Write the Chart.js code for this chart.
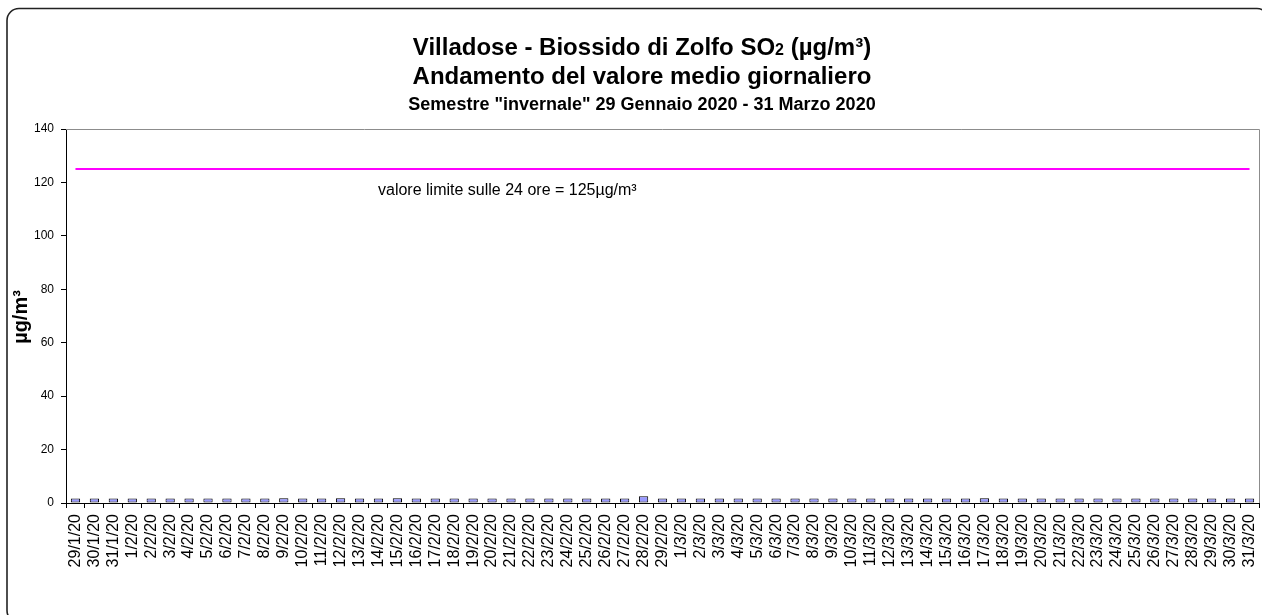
<!DOCTYPE html>
<html>
<head>
<meta charset="utf-8">
<script src="https://cdn.jsdelivr.net/npm/chart.js@4/dist/chart.umd.min.js"></script>
<style>
html,body{margin:0;padding:0;background:#fff;}
#wrap{width:1262px;height:615px;position:relative;}
canvas{display:block;}
</style>
</head>
<body>
<div id="wrap"><canvas id="c" width="1262" height="615"></canvas></div>
<script>
const categories = [
  "29/1/20","30/1/20","31/1/20",
  "1/2/20","2/2/20","3/2/20","4/2/20","5/2/20","6/2/20","7/2/20","8/2/20","9/2/20","10/2/20",
  "11/2/20","12/2/20","13/2/20","14/2/20","15/2/20","16/2/20","17/2/20","18/2/20","19/2/20","20/2/20",
  "21/2/20","22/2/20","23/2/20","24/2/20","25/2/20","26/2/20","27/2/20","28/2/20","29/2/20",
  "1/3/20","2/3/20","3/3/20","4/3/20","5/3/20","6/3/20","7/3/20","8/3/20","9/3/20","10/3/20",
  "11/3/20","12/3/20","13/3/20","14/3/20","15/3/20","16/3/20","17/3/20","18/3/20","19/3/20","20/3/20",
  "21/3/20","22/3/20","23/3/20","24/3/20","25/3/20","26/3/20","27/3/20","28/3/20","29/3/20","30/3/20","31/3/20"
];
const so2Values = [
  1.7,1.7,1.7,
  1.7,1.7,1.7,1.7,1.7,1.7,1.7,1.7,1.8,1.7,
  1.7,1.8,1.7,1.7,1.8,1.7,1.7,1.7,1.7,1.7,
  1.7,1.7,1.7,1.7,1.7,1.7,1.7,2.5,1.7,
  1.7,1.7,1.7,1.7,1.7,1.7,1.7,1.7,1.7,1.7,
  1.7,1.7,1.7,1.7,1.7,1.7,1.8,1.7,1.7,1.7,
  1.7,1.7,1.7,1.7,1.7,1.7,1.7,1.7,1.7,1.7,1.7
];
const limitValues = [
  125,125,125,
  125,125,125,125,125,125,125,125,125,125,
  125,125,125,125,125,125,125,125,125,125,
  125,125,125,125,125,125,125,125,125,
  125,125,125,125,125,125,125,125,125,125,
  125,125,125,125,125,125,125,125,125,125,
  125,125,125,125,125,125,125,125,125,125,125
];
const yTickValues = [0,20,40,60,80,100,120,140];
const titleLine1 = ["Villadose - Biossido di Zolfo SO", "2", " (µg/m³)"];
const titleLine2 = "Andamento del valore medio giornaliero";
const titleLine3 = "Semestre \"invernale\" 29 Gennaio 2020 - 31 Marzo 2020";
const yAxisTitle = "µg/m³";
const limitLabel = "valore limite sulle 24 ore = 125µg/m³";

const FONT = "'Liberation Sans', Arial, sans-serif";

const decorPlugin = {
  id: 'decor',
  beforeDraw(chart) {
    const ctx = chart.ctx;
    ctx.save();
    ctx.fillStyle = '#ffffff';
    ctx.fillRect(0, 0, chart.width, chart.height);
    ctx.strokeStyle = '#222222';
    ctx.lineWidth = 1.6;
    ctx.beginPath();
    ctx.roundRect(7, 8.5, 1262, 614, 12);
    ctx.stroke();
    ctx.restore();
  },
  afterDraw(chart) {
    const ctx = chart.ctx;
    const a = chart.chartArea;
    ctx.save();
    // plot area border (top & right)
    ctx.strokeStyle = '#8c8c8c';
    ctx.lineWidth = 1;
    ctx.beginPath();
    ctx.moveTo(a.left, Math.round(a.top) + 0.5);
    ctx.lineTo(Math.round(a.right) + 0.5, Math.round(a.top) + 0.5);
    ctx.lineTo(Math.round(a.right) + 0.5, a.bottom);
    ctx.stroke();

    // titles
    ctx.fillStyle = '#000';
    ctx.textBaseline = 'alphabetic';
    const cx = 642;
    const big = 'bold 24px ' + FONT, sub = 'bold 16px ' + FONT;
    ctx.font = big; const w0 = ctx.measureText(titleLine1[0]).width;
    ctx.font = sub; const w1 = ctx.measureText(titleLine1[1]).width;
    ctx.font = big; const w2 = ctx.measureText(titleLine1[2]).width;
    let x = cx - (w0 + w1 + w2) / 2;
    ctx.textAlign = 'left';
    ctx.font = big; ctx.fillText(titleLine1[0], x, 55); x += w0;
    ctx.font = sub; ctx.fillText(titleLine1[1], x, 55); x += w1;
    ctx.font = big; ctx.fillText(titleLine1[2], x, 55);
    ctx.textAlign = 'center';
    ctx.font = big; ctx.fillText(titleLine2, cx, 84);
    ctx.font = 'bold 18px ' + FONT; ctx.fillText(titleLine3, cx, 110);

    // limit label
    ctx.textAlign = 'left';
    ctx.font = '16px ' + FONT;
    ctx.fillText(limitLabel, 378, 195);

    // y axis title
    ctx.translate(27, 317);
    ctx.rotate(-Math.PI / 2);
    ctx.textAlign = 'center';
    ctx.font = 'bold 20px ' + FONT;
    ctx.fillText(yAxisTitle, 0, 0);
    ctx.restore();
  }
};

new Chart(document.getElementById('c').getContext('2d'), {
  data: {
    labels: categories,
    datasets: [
      {
        type: 'line',
        data: limitValues,
        borderColor: '#FF00FF',
        borderWidth: 2,
        pointRadius: 0,
        fill: false,
        tension: 0,
        order: 1
      },
      {
        type: 'bar',
        data: so2Values,
        backgroundColor: '#9999FF',
        borderColor: '#000000',
        borderWidth: 1,
        borderSkipped: false,
        barPercentage: 0.49,
        categoryPercentage: 1,
        order: 2
      }
    ]
  },
  options: {
    responsive: false,
    animation: false,
    devicePixelRatio: 1,
    layout: { padding: { top: 129, left: 0, right: 3, bottom: 0 } },
    plugins: {
      legend: { display: false },
      title: { display: false },
      tooltip: { enabled: false }
    },
    scales: {
      x: {
        type: 'category',
        offset: true,
        grid: { offset: true, drawOnChartArea: false, color: '#000', tickColor: '#000', tickLength: 5, lineWidth: 1 },
        border: { color: '#000', width: 1 },
        ticks: {
          autoSkip: false, minRotation: 90, maxRotation: 90,
          color: '#000', padding: 6,
          font: { family: FONT, size: 16 }
        },
        afterFit(s) { s.height = 112; s.paddingLeft = 0; s.paddingRight = 0; }
      },
      y: {
        min: 0, max: 140,
        afterBuildTicks(s) { s.ticks = yTickValues.map(v => ({ value: v })); },
        grid: { drawOnChartArea: false, color: '#000', tickColor: '#000', tickLength: 5 },
        border: { color: '#000', width: 1 },
        ticks: { color: '#000', padding: 7, font: { family: FONT, size: 12 } },
        afterFit(s) { s.width = 66; s.paddingTop = 0; s.paddingBottom = 0; }
      }
    }
  },
  plugins: [decorPlugin]
});
</script>
</body>
</html>
